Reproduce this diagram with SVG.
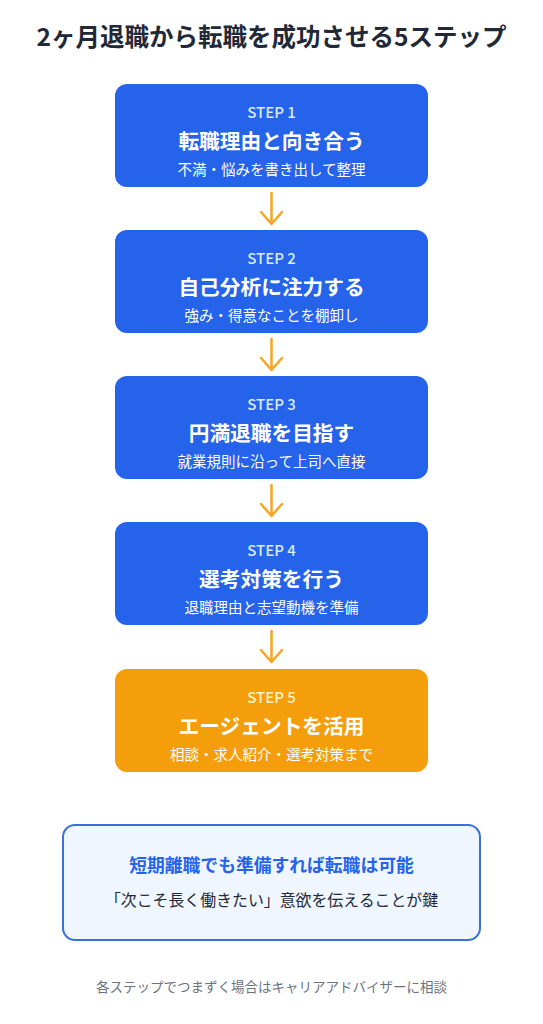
<svg xmlns="http://www.w3.org/2000/svg" width="543" height="1024" viewBox="0 0 543 1024">
<style>
text{font-family:"Noto Sans CJK JP","Noto Sans",sans-serif;text-anchor:middle}
.t{font-size:24.5px;font-weight:700;fill:#1f2937}
.box{fill:#2563eb}
.box5{fill:#f59e0b}
.step{font-size:15px;fill:#dbeafe;font-weight:500}
.head{font-size:20.7px;font-weight:700;fill:#fff}
.sub{font-size:14.5px;fill:#fff}
.arr{stroke:#f5a623;stroke-width:2.5;fill:none;stroke-linecap:round;stroke-linejoin:round}
</style>
<rect width="543" height="1024" fill="#fff"/>
<text class="t" x="271.5" y="46">2ヶ月退職から転職を成功させる5ステップ</text>
<g id="step1"><rect class="box" x="115" y="84" width="313" height="103" rx="12"/><text class="step" x="271.5" y="118">STEP 1</text><text class="head" x="271.5" y="149">転職理由と向き合う</text><text class="sub" x="271.5" y="175">不満・悩みを書き出して整理</text></g>
<g id="step2"><rect class="box" x="115" y="230" width="313" height="103" rx="12"/><text class="step" x="271.5" y="264">STEP 2</text><text class="head" x="271.5" y="295">自己分析に注力する</text><text class="sub" x="271.5" y="321">強み・得意なことを棚卸し</text></g>
<g id="step3"><rect class="box" x="115" y="376" width="313" height="103" rx="12"/><text class="step" x="271.5" y="410">STEP 3</text><text class="head" x="271.5" y="441">円満退職を目指す</text><text class="sub" x="271.5" y="467">就業規則に沿って上司へ直接</text></g>
<g id="step4"><rect class="box" x="115" y="522" width="313" height="103" rx="12"/><text class="step" x="271.5" y="556">STEP 4</text><text class="head" x="271.5" y="587">選考対策を行う</text><text class="sub" x="271.5" y="613">退職理由と志望動機を準備</text></g>
<g id="step5"><rect class="box5" x="115" y="669" width="313" height="103" rx="12"/><text class="step" x="271.5" y="703" style="fill:#fef3c7">STEP 5</text><text class="head" x="271.5" y="734">エージェントを活用</text><text class="sub" x="271.5" y="760">相談・求人紹介・選考対策まで</text></g>
<g id="connectors">
<path class="arr" d="M271.5 193V224M261 212l10.5 12 10.5-12"/>
<path class="arr" d="M271.5 339V370M261 358l10.5 12 10.5-12"/>
<path class="arr" d="M271.5 485V516M261 504l10.5 12 10.5-12"/>
<path class="arr" d="M271.5 631V662M261 650l10.5 12 10.5-12"/>
</g>
<g id="note"><rect x="63" y="825" width="417" height="115" rx="12" fill="#eff6ff" stroke="#3b6fd9" stroke-width="2"/><text x="271.5" y="872" style="font-size:17.8px;font-weight:700;fill:#2563eb">短期離職でも準備すれば転職は可能</text><text x="271.5" y="906" style="font-size:15.9px;fill:#1f2937">「次こそ長く働きたい」意欲を伝えることが鍵</text></g>
<text x="271.5" y="992" style="font-size:13.5px;fill:#6b7280">各ステップでつまずく場合はキャリアアドバイザーに相談</text>
</svg>
